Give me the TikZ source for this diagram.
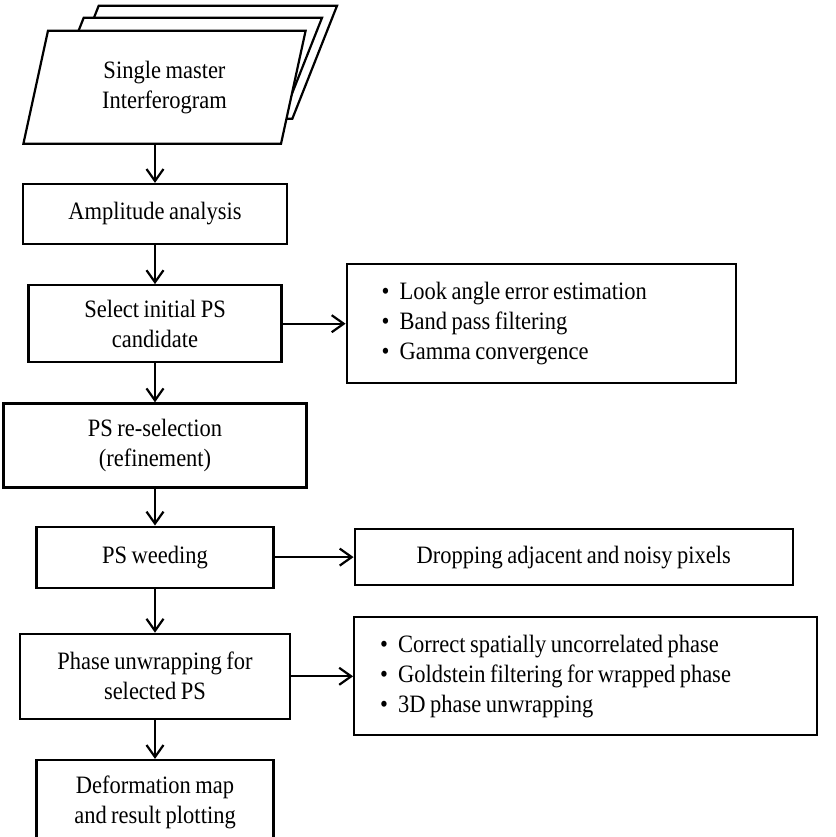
\documentclass[tikz,border=0pt]{standalone}
\usepackage{fontspec}
\setmainfont[FakeStretch=0.9,WordSpace=0.8]{Liberation Serif}
\usetikzlibrary{positioning}
\usetikzlibrary{shapes.geometric}
\usetikzlibrary{arrows.meta}

\begin{document}
\begin{tikzpicture}
    \tikzstyle{every node}=[draw=black,line width=1.1pt,font=\fontsize{12.5}{15}\selectfont,align=flush center,inner sep=2pt]
    \tikzstyle{every path}=[line width=1.1pt]
    \tikzstyle{flow}=[-{Straight Barb[length=6pt,width=8.5pt]}]
    \tikzstyle{sheet}=[trapezium,trapezium left angle=77,trapezium right angle=103,trapezium stretches=true,minimum width=141.5pt,minimum height=56.5pt,fill=white]

    \useasboundingbox (0,0) rectangle (418pt,-418.5pt);

    \node[minimum width=132pt,minimum height=30pt] (amp) at (77.5pt,-107pt) {Amplitude analysis};

    % stack of interferograms, back to front
    \node[sheet,above=19pt of amp,xshift=20.25pt,yshift=12.5pt] (sheet3) {};
    \node[sheet,above=19pt of amp,xshift=12.75pt,yshift=6.5pt] (sheet2) {};
    \node[sheet,above=19pt of amp,xshift=4.75pt] (sheet1) {Single master\\Interferogram};

    \node[below=19.5pt of amp,minimum width=126.5pt,minimum height=38.5pt] (select) {Select initial PS\\candidate};
    \node[below=19.5pt of select,minimum width=151.5pt,minimum height=42pt] (resel) {PS re-selection\\(refinement)};
    \node[below=18.5pt of resel,minimum width=118.5pt,minimum height=30.5pt] (weed) {PS weeding};
    \node[below=22pt of weed,minimum width=135pt,minimum height=42.5pt] (unwrap) {Phase unwrapping for\\selected PS};
    \node[below=19.5pt of unwrap,minimum width=118.5pt,minimum height=42.5pt] (deform) {Deformation map\\and result plotting};

    % side notes
    \node[right=31.5pt of select,minimum height=59.5pt,inner xsep=17.5pt,text width=159.5pt,align=flush left] (checks)
        {\textbullet\hspace{5pt}Look angle error estimation\\
         \textbullet\hspace{5pt}Band pass filtering\\
         \textbullet\hspace{5pt}Gamma convergence};
    \node[right=39.5pt of weed,minimum width=219pt,minimum height=28pt] (drop) {Dropping adjacent and noisy pixels};
    \node[right=31pt of unwrap,minimum height=59pt,inner xsep=13pt,text width=205.5pt,align=flush left] (steps)
        {\textbullet\hspace{5pt}Correct spatially uncorrelated phase\\
         \textbullet\hspace{5pt}Goldstein filtering for wrapped phase\\
         \textbullet\hspace{5pt}3D phase unwrapping};

    \draw[flow] (amp.north |- sheet1.south) -- (amp.north);
    \foreach \a/\b in {amp/select,select/resel,resel/weed,weed/unwrap,unwrap/deform}
      \draw[flow] (\a.south) -- (\b.north);

    \draw[flow] (select.east) -- (checks.west);
    \draw[flow] (weed.east) -- (drop.west);
    \draw[flow] (unwrap.east) -- (steps.west);

\end{tikzpicture}
\end{document}
